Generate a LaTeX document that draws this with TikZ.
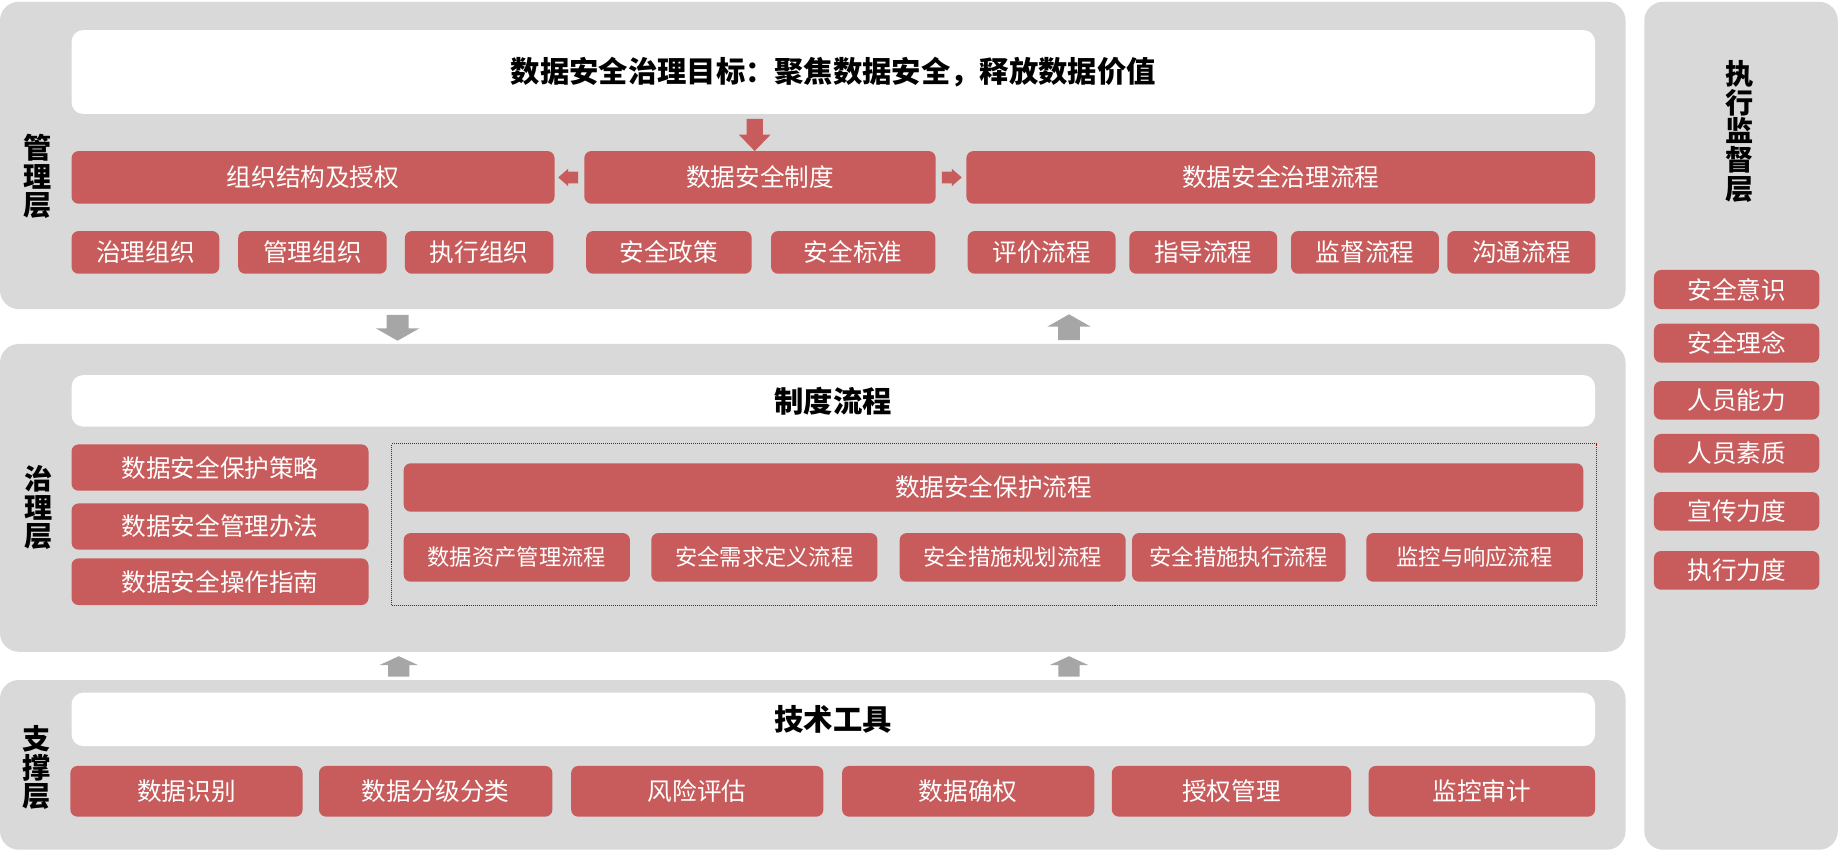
\documentclass[tikz,border=0pt]{standalone}
\usepackage{fontspec}
\setmainfont{Noto Sans CJK SC}
\definecolor{panelgray}{RGB}{217,217,217}
\definecolor{boxred}{RGB}{200,92,92}
\definecolor{arrowgray}{RGB}{166,166,166}
\definecolor{framered}{RGB}{192,0,0}
\tikzset{
  panel/.style={fill=panelgray, draw=none, rounded corners=16pt, inner sep=0pt},
  whitebox/.style={fill=white, draw=none, rounded corners=10pt, inner sep=0pt, text=black, font=\fontsize{25}{30}\selectfont\bfseries},
  redbox/.style={fill=boxred, draw=none, rounded corners=6pt, inner sep=0pt, text=white, font=\fontsize{21}{25}\selectfont},
  smallred/.style={redbox, font=\fontsize{19}{23}\selectfont},
  sidelabel/.style={align=center, inner sep=0pt, font=\fontsize{24}{24.5}\selectfont\bfseries, text=black},
  dotframe/.style={draw=framered, densely dotted, line width=0.7pt, fill=none, inner sep=0pt},
  pics/barrow/.style n args={5}{code={
     \fill[#5] (0,0) -- (-#3,-#2) -- (-#4,-#2) -- (-#4,-#1) -- (#4,-#1) -- (#4,-#2) -- (#3,-#2) -- cycle;}},
}
\newcommand\bx[7][redbox]{\node[#1, minimum width={(#5-#3)*1pt}, minimum height={(#6-#4)*1pt}] (#2) at ({(#3+#5)/2},{(#4+#6)/2}) {#7};}
\begin{document}
\begin{tikzpicture}[x=1pt,y=-1pt]
\useasboundingbox (0,0) rectangle (1568,725);
% panels
\bx[panel]{pM}{0}{1.5}{1386}{263.5}{}
\bx[panel]{pG}{0}{293.3}{1386}{555.7}{}
\bx[panel]{pS}{0}{579.8}{1386}{724.5}{}
\bx[panel]{pE}{1402}{1.5}{1567}{724.5}{}
% side labels
\node[sidelabel] (lM) at (32,150.5) {管\\理\\层};
\node[sidelabel] (lG) at (33,432.8) {治\\理\\层};
\node[sidelabel] (lS) at (31.5,654.4) {支\\撑\\层};
\node[sidelabel] (lE) at (1483,112) {执\\行\\监\\督\\层};
% management layer
\bx[whitebox]{goal}{61}{25.6}{1360}{97.2}{数据安全治理目标：聚焦数据安全，释放数据价值}
\bx{org}{61}{128.8}{472.8}{173.7}{组织结构及授权}
\bx{sys}{498.2}{128.8}{797.8}{173.7}{数据安全制度}
\bx{proc}{824}{128.8}{1360}{173.7}{数据安全治理流程}
\bx{m1}{61}{197}{187}{233.4}{治理组织}
\bx{m2}{203.1}{197}{329.7}{233.4}{管理组织}
\bx{m3}{345.2}{197}{471.8}{233.4}{执行组织}
\bx{m4}{499.8}{197}{640.9}{233.4}{安全政策}
\bx{m5}{657.4}{197}{797.5}{233.4}{安全标准}
\bx{m6}{825.1}{197}{951.2}{233.4}{评价流程}
\bx{m7}{962.9}{197}{1089}{233.4}{指导流程}
\bx{m8}{1100.8}{197}{1226.9}{233.4}{监督流程}
\bx{m9}{1234.1}{197}{1360.3}{233.4}{沟通流程}
\pic at (643.5,128.8) {barrow={27.5}{14}{13.5}{7}{boxred}};
\pic[rotate=-90] at (476,151.3) {barrow={17}{8.5}{7.5}{5}{boxred}};
\pic[rotate=90] at (820,151.3) {barrow={17}{8.5}{7.5}{5}{boxred}};
% arrows between layers
\pic at (339,290.5) {barrow={22}{10.5}{18.5}{9.3}{arrowgray}};
\pic[rotate=180] at (911.5,268) {barrow={22}{10.5}{18.5}{9.3}{arrowgray}};
\pic[rotate=180] at (340,559.5) {barrow={17.5}{7.5}{16.3}{9}{arrowgray}};
\pic[rotate=180] at (911.5,559.5) {barrow={17.5}{7.5}{16.3}{9}{arrowgray}};
% governance layer
\bx[whitebox]{flow}{61}{319.8}{1360}{363.8}{制度流程}
\bx{g1}{61}{378.9}{314.2}{418.4}{数据安全保护策略}
\bx{g2}{61}{429.2}{314.2}{468.7}{数据安全管理办法}
\bx{g3}{61}{476.1}{314.2}{515.9}{数据安全操作指南}
\bx[dotframe]{frame}{334}{378.3}{1361.1}{516.1}{}
\bx{prot}{344.2}{395}{1350}{436.3}{数据安全保护流程}
\bx[smallred]{p1}{344.2}{454.5}{537.1}{496}{数据资产管理流程}
\bx[smallred]{p2}{555.3}{454.5}{748.1}{496}{安全需求定义流程}
\bx[smallred]{p3}{767.1}{454.5}{959.8}{496}{安全措施规划流程}
\bx[smallred]{p4}{965.2}{454.5}{1147.3}{496}{安全措施执行流程}
\bx[smallred]{p5}{1164.9}{454.5}{1349.6}{496}{监控与响应流程}
% support layer
\bx[whitebox]{tools}{61}{590.6}{1360}{636.1}{技术工具}
\bx{s1}{60}{653.1}{258}{696.3}{数据识别}
\bx{s2}{272}{653.1}{471}{696.3}{数据分级分类}
\bx{s3}{487}{653.1}{702}{696.3}{风险评估}
\bx{s4}{718}{653.1}{933}{696.3}{数据确权}
\bx{s5}{948}{653.1}{1152}{696.3}{授权管理}
\bx{s6}{1167}{653.1}{1360}{696.3}{监控审计}
% execution supervision
\bx{e1}{1410.2}{230.2}{1551.2}{263.5}{安全意识}
\bx{e2}{1410.2}{276}{1551.2}{309.2}{安全理念}
\bx{e3}{1410.2}{324.9}{1551.2}{357.8}{人员能力}
\bx{e4}{1410.2}{370}{1551.2}{403}{人员素质}
\bx{e5}{1410.2}{419.5}{1551.2}{452.5}{宣传力度}
\bx{e6}{1410.2}{469.8}{1551.2}{502.8}{执行力度}
\end{tikzpicture}
\end{document}
